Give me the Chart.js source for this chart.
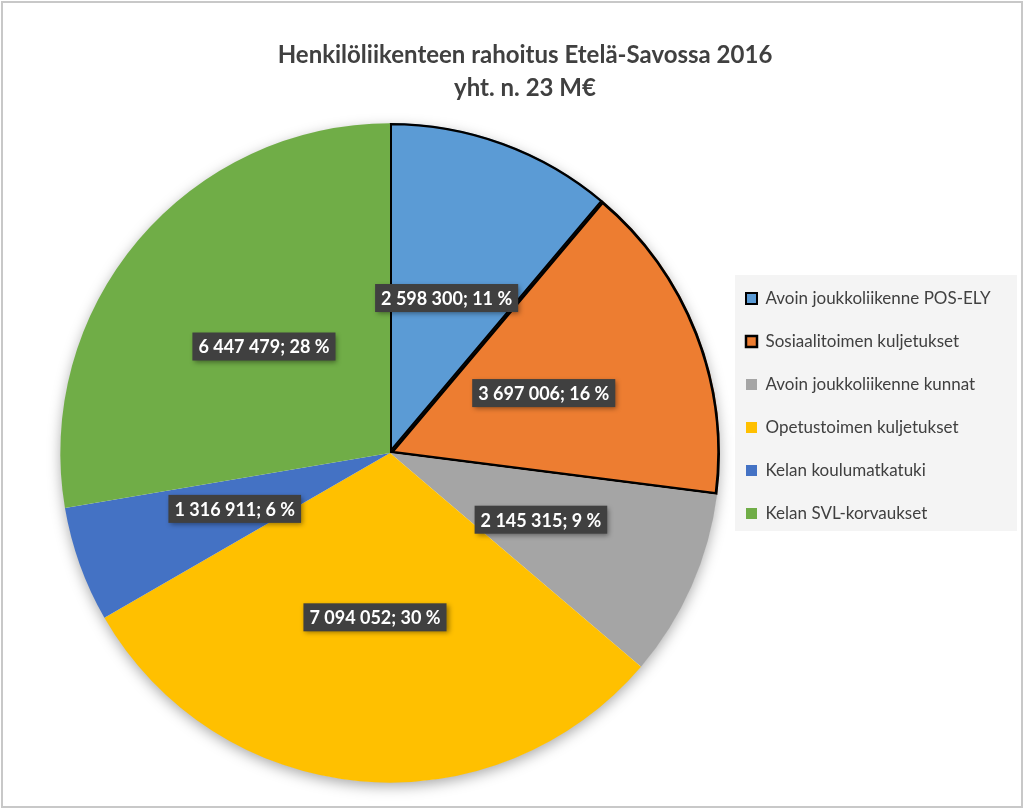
<!DOCTYPE html>
<html>
<head>
<meta charset="utf-8">
<script src="https://cdn.jsdelivr.net/npm/chart.js@4.4.0/dist/chart.umd.min.js"></script>
<style>
  html, body { margin: 0; padding: 0; background: #fff; }
  #wrap { width: 1024px; height: 808px; position: relative; }
</style>
</head>
<body>
<div id="wrap"><canvas id="pieChart" width="1024" height="808"></canvas></div>
<script>
// DATA
const titleLines = ['Henkilöliikenteen rahoitus Etelä-Savossa 2016', 'yht. n. 23 M€'];
const categories = [
    'Avoin joukkoliikenne POS-ELY',
    'Sosiaalitoimen kuljetukset',
    'Avoin joukkoliikenne kunnat',
    'Opetustoimen kuljetukset',
    'Kelan koulumatkatuki',
    'Kelan SVL-korvaukset'
];
const amounts = [2598300, 3697006, 2145315, 7094052, 1316911, 6447479];
const sliceColors = ['#5B9BD5', '#ED7D31', '#A5A5A5', '#FFC000', '#4472C4', '#70AD47'];
const outlineWidths = [2, 2.5, 0, 0, 0, 0];

const FONT = 'Lato, "Open Sans", sans-serif';
const LEGEND_PAD = 26;
const LEGEND_BOX = 11;
const LEGEND_FONT = 17;

// espace comme séparateur de milliers
function fmt(n) {
    return String(n).replace(/\B(?=(\d{3})+(?!\d))/g, ' ');
}

// largeur de la légende -> marge droite pour garder le camembert à sa place
const mctx = document.createElement('canvas').getContext('2d');
mctx.font = LEGEND_FONT + 'px ' + FONT;
const maxText = Math.max(...categories.map(c => mctx.measureText(c).width));
const legendWidth = LEGEND_PAD + LEGEND_BOX + LEGEND_FONT / 2 + maxText + 10;
const padTop = 123, padBottom = 25, padLeft = 60;
const pieSize = 808 - padTop - padBottom;
const padRight = 1024 - padLeft - pieSize - legendWidth;

// FOND + CADRE + TITRE
const frame = {
    id: 'frame',
    beforeDraw(chart) {
        const c = chart.ctx;
        c.save();
        c.fillStyle = '#fff';
        c.fillRect(0, 0, chart.width, chart.height);
        c.strokeStyle = '#c8c8c8';
        c.lineWidth = 2;
        c.strokeRect(2, 2, chart.width - 4, chart.height - 3);
        // fond de la légende
        const lg = chart.legend;
        c.fillStyle = '#f4f4f4';
        c.fillRect(lg.left + 15, 275, 282, 256);
        // titre
        c.fillStyle = '#404040';
        c.font = 'bold 24px ' + FONT;
        c.textAlign = 'center';
        c.textBaseline = 'middle';
        c.fillText(titleLines[0], 525, 55);
        c.fillText(titleLines[1], 525, 88);
        c.restore();
    },
    afterLayout(chart) {
        // légende centrée plus haut que la zone du graphique
        chart.legend.top = 251;
        chart.legend.bottom = 561;
    }
};

// OMBRE SOUS LE CAMEMBERT
const pieShadow = {
    id: 'pieShadow',
    beforeDatasetsDraw(chart) {
        const arc = chart.getDatasetMeta(0).data[0];
        if (!arc) return;
        const c = chart.ctx;
        c.save();
        c.shadowColor = 'rgba(0,0,0,0.35)';
        c.shadowBlur = 14;
        c.shadowOffsetY = 4;
        c.fillStyle = '#fff';
        c.beginPath();
        c.arc(arc.x, arc.y, arc.outerRadius - 1, 0, Math.PI * 2);
        c.fill();
        c.restore();
    }
};

// ÉTIQUETTES DE DONNÉES
const dataLabels = {
    id: 'dataLabels',
    afterDatasetsDraw(chart) {
        const c = chart.ctx;
        const data = chart.data.datasets[0].data;
        const total = data.reduce((a, b) => a + b, 0);
        c.save();
        c.font = 'bold 18px ' + FONT;
        c.textAlign = 'center';
        c.textBaseline = 'middle';
        chart.getDatasetMeta(0).data.forEach((arc, i) => {
            const p = arc.tooltipPosition();
            const txt = fmt(data[i]) + '; ' + Math.round(data[i] / total * 100) + ' %';
            const w = c.measureText(txt).width + 12;
            const h = 28;
            c.save();
            c.shadowColor = 'rgba(0,0,0,0.4)';
            c.shadowBlur = 5;
            c.shadowOffsetX = 2;
            c.shadowOffsetY = 2;
            c.fillStyle = '#404040';
            c.fillRect(p.x - w / 2, p.y - h / 2, w, h);
            c.restore();
            c.fillStyle = '#fff';
            c.fillText(txt, p.x, p.y + 1);
        });
        c.restore();
    }
};

new Chart(document.getElementById('pieChart'), {
    type: 'pie',
    data: {
        labels: categories,
        datasets: [{
            data: amounts,
            backgroundColor: sliceColors,
            borderColor: '#000',
            borderWidth: outlineWidths,
            borderAlign: 'inner'
        }]
    },
    options: {
        responsive: false,
        animation: false,
        events: [],
        layout: {
            padding: { top: padTop, bottom: padBottom, left: padLeft, right: padRight }
        },
        plugins: {
            title: { display: false },
            tooltip: { enabled: false },
            legend: {
                position: 'right',
                align: 'center',
                labels: {
                    boxWidth: LEGEND_BOX,
                    boxHeight: LEGEND_BOX,
                    padding: LEGEND_PAD,
                    color: '#404040',
                    font: { family: FONT, size: LEGEND_FONT }
                }
            }
        }
    },
    plugins: [frame, pieShadow, dataLabels]
});
</script>
</body>
</html>
